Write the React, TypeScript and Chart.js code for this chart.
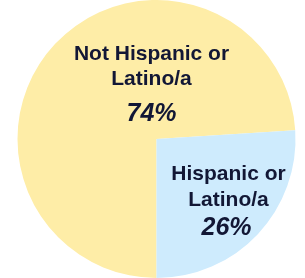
import React, { useEffect, useRef } from "react";
import { Chart, registerables } from "chart.js";

Chart.register(...registerables);

const categories = ["Not Hispanic or Latino/a", "Hispanic or Latino/a"];
const values = [74, 26];
const labelLines = [["Not Hispanic or", "Latino/a"], ["Hispanic or", "Latino/a"]];
const percentLabels = ["74%", "26%"];
const colors = ["#FEEDA7", "#CEEBFD"];

// label offsets relative to pie centre: [dx, baselines...]
const labelLayout = [
  { dx: -5, ys: [-79, -54, -18] },
  { dx: 72, ys: [41, 67, 96] },
];

const labelPlugin = {
  id: "sliceLabels",
  afterDatasetsDraw(chart: any) {
    const ctx = chart.ctx;
    const meta = chart.getDatasetMeta(0);
    ctx.save();
    ctx.fillStyle = "#121735";
    ctx.textAlign = "center";
    ctx.textBaseline = "alphabetic";
    meta.data.forEach((arc: any, i: number) => {
      const { x, y } = arc;
      const lay = labelLayout[i];
      ctx.font = "bold 21px 'Liberation Sans', Arial, sans-serif";
      labelLines[i].forEach((t, j) => ctx.fillText(t, x + lay.dx, y + lay.ys[j]));
      ctx.font = "italic bold 25px 'Liberation Sans', Arial, sans-serif";
      ctx.fillText(percentLabels[i], x + lay.dx + (i === 1 ? -2 : 0), y + lay.ys[2]);
    });
    ctx.restore();
  },
};

export default function App() {
  const ref = useRef<HTMLCanvasElement>(null);
  useEffect(() => {
    if (!ref.current) return;
    const chart = new Chart(ref.current, {
      type: "pie",
      data: {
        labels: categories,
        datasets: [
          {
            data: values,
            backgroundColor: colors,
            borderWidth: 0,
          },
        ],
      },
      options: {
        animation: false,
        responsive: false,
        rotation: 180,
        layout: { padding: { left: 8, right: 0, top: 0, bottom: 0 } },
        plugins: { legend: { display: false }, tooltip: { enabled: false } },
      },
      plugins: [labelPlugin],
    });
    return () => chart.destroy();
  }, []);
  return (
    <div style={{ position: "fixed", left: 0, top: 0, width: 305, height: 278, background: "#fff" }}>
      <canvas ref={ref} width={305} height={278} style={{ width: 305, height: 278 }} />
    </div>
  );
}
